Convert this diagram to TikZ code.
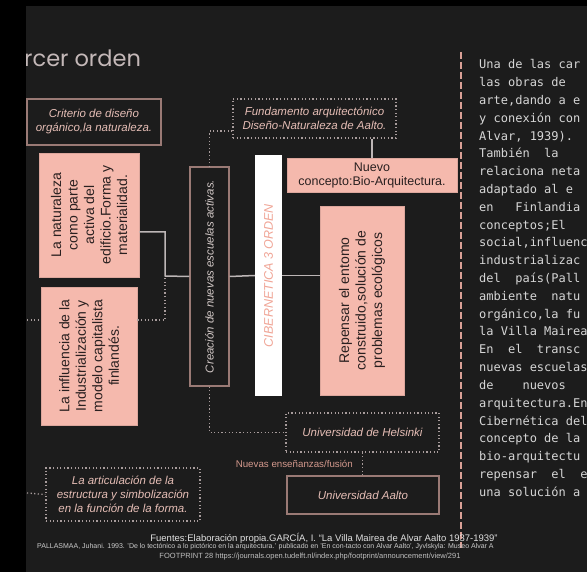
\documentclass[tikz,border=0pt]{standalone}
\usepackage{fontspec}
\setmainfont{Liberation Sans}
\newfontfamily\monofont{DejaVu Sans Mono}
\newfontfamily\titlefont{Poppins}

\definecolor{slide}{HTML}{1C1C1C}
\definecolor{salmon}{HTML}{F5B9AD}
\definecolor{boxline}{HTML}{9A7A75}
\definecolor{dotline}{HTML}{A89C9C}
\definecolor{linkgrey}{HTML}{BDB6B6}
\definecolor{softpink}{HTML}{E6BEB6}
\definecolor{softgrey}{HTML}{D2C8C6}
\definecolor{titlegrey}{HTML}{C4B8B8}
\definecolor{cibtext}{HTML}{F0A596}
\definecolor{divider}{HTML}{D9A096}
\definecolor{bodytext}{HTML}{D6D6D6}
\definecolor{inkdark}{HTML}{2A2020}
\definecolor{labelpink}{HTML}{D4998D}

\begin{document}
\begin{tikzpicture}[x=1pt, y=-1pt,
    pinkbox/.style={fill=salmon, draw=salmon!90!black, line width=0.6pt, inner sep=0pt, text=inkdark, align=center, font=\fontsize{14}{16.5}\selectfont},
    darkbox/.style={draw=boxline, line width=1.4pt, inner sep=0pt, text=softpink, align=center, font=\itshape\fontsize{11.5}{14}\selectfont},
    dotbox/.style={draw=dotline, line width=1.3pt, dash pattern=on 1.2pt off 2.4pt, inner sep=0pt, text=softpink, align=center, font=\itshape\fontsize{11.5}{14}\selectfont},
    link/.style={draw=linkgrey, line width=1.5pt},
    dotlink/.style={draw=dotline, line width=1.3pt, dash pattern=on 1.2pt off 2.4pt}]

    \useasboundingbox (0,0) rectangle (587,572);
    \fill[slide] (0,0) rectangle (587,572);

    \node[anchor=base west, inner sep=0pt, text=titlegrey, font=\titlefont\fontsize{22.5}{26}\selectfont] (title) at (24,67) {rcer orden};

    \node[darkbox, minimum width=134pt, minimum height=46pt] (criterio) at (94,122) {Criterio de diseño\\orgánico,la naturaleza.};
    \node[dotbox, minimum width=163pt, minimum height=39pt] (fundamento) at (314.5,118.5) {Fundamento arquitectónico\\Diseño-Naturaleza de Aalto.};

    \node[pinkbox, rotate=90, minimum width=124pt, minimum height=100pt] (naturaleza) at (89,215) {La naturaleza\\como parte\\activa del\\edificio.Forma y\\materialidad.};
    \node[pinkbox, rotate=90, minimum width=138pt, minimum height=96pt] (influencia) at (89,356) {La influencia de la\\Industrialización y\\modelo capitalista\\finlandés.};

    \node[darkbox, rotate=90, text=softgrey, minimum width=219pt, minimum height=39pt] (creacion) at (209.5,276.5) {Creación de nuevas escuelas activas.};
    \node[fill=white, rotate=90, inner sep=0pt, text=cibtext, font=\itshape\fontsize{12.5}{14}\selectfont, minimum width=241pt, minimum height=27pt] (cibernetica) at (268.5,275.5) {CIBERNETICA 3 ORDEN};

    \node[pinkbox, font=\fontsize{12.5}{14}\selectfont, minimum width=170pt, minimum height=34pt] (nuevo) at (372,175) {Nuevo\\concepto:Bio-Arquitectura.};
    \node[pinkbox, rotate=90, minimum width=189pt, minimum height=84pt] (repensar) at (362,300.5) {Repensar el entomo\\construido,solución de\\problemas ecológicos};

    \node[dotbox, minimum width=153pt, minimum height=39pt] (helsinki) at (362.5,432.5) {Universidad de Helsinki};
    \node[darkbox, minimum width=152pt, minimum height=38pt] (aalto) at (363,495) {Universidad Aalto};
    \node[dotbox, minimum width=154pt, minimum height=53pt] (articulacion) at (123,494.5) {La articulación de la\\estructura y simbolización\\en la función de la forma.};

    \coordinate (junction) at (165,276);
    \coordinate (leftedge1) at (27,320);
    \coordinate (leftedge2) at (27,493);

    \draw[link] (naturaleza.south |- 0,232) -| (junction) -- (creacion.north);
    \draw[link] (creacion.south) -- (cibernetica.north);
    \draw[link] (cibernetica.south) -- (cibernetica.south -| repensar.north);
    \draw[link] (fundamento.south -| nuevo.north) -- (nuevo.north);

    \draw[dotlink] (fundamento.west |- 0,131) -| (creacion.east);
    \draw[dotlink] (influencia.south |- 0,320) -| (junction);
    \draw[dotlink] (leftedge1) -- (leftedge1 -| influencia.north);
    \draw[dotlink] (creacion.west) |- (helsinki.west);
    \draw[dotlink] (helsinki.south) -- node[left=9pt, inner sep=0pt, text=labelpink, font=\fontsize{9.75}{11}\selectfont] (fusion) {Nuevas enseñanzas/fusión} (helsinki.south |- aalto.north);
    \draw[dotlink] (leftedge2) -- (articulacion.west);

    \coordinate (dividertop) at (461,52);
    \coordinate (dividerbottom) at (461,548);
    \draw[draw=divider, line width=2pt, dash pattern=on 7pt off 3pt] (dividertop) -- (dividerbottom);

    \foreach \row [count=\i] in {{Una de las car}, {las obras de}, {arte,dando a e}, {y conexión con}, {Alvar, 1939).}, {También\ \ la}, {relaciona neta}, {adaptado al e}, {en\ \ \ Finlandia}, {conceptos;El}, {social,influenc}, {industrializac}, {del\ \ país(Pall}, {ambiente\ \ natu}, {orgánico,la fu}, {la Villa Mairea}, {En\ \ el\ \ transc}, {nuevas escuelas}, {de\ \ \ \ nuevos}, {arquitectura.En}, {Cibernética del}, {concepto de la}, {bio-arquitectu}, {repensar\ \ el\ \ e}, {una solución a}}
        \node[anchor=base west, inner sep=0pt, text=bodytext, font=\monofont\fontsize{12}{14}\selectfont] (line\i) at (479,{69+17.8*(\i-1)}) {\row};

    \node[inner sep=0pt, text=white!88!black, font=\fontsize{9.5}{10.5}\selectfont] (source) at (324,538) {Fuentes:Elaboración propia.GARCÍA, I. “La Villa Mairea de Alvar Aalto 1937-1939”};
    \node[anchor=west, inner sep=0pt, text=white!80!black, font=\fontsize{7}{8}\selectfont] (pallasmaa) at (37,547) {PALLASMAA, Juhani. 1993. 'De lo tectónico a lo pictórico en la arquitectura.' publicado en 'En con-tacto con Alvar Aalto', Jyvlskyla: Museo Alvar A};
    \node[inner sep=0pt, text=white!75!black, font=\fontsize{7.5}{8.5}\selectfont] (footprint) at (310,557) {FOOTPRINT 28 https://journals.open.tudelft.nl/index.php/footprint/announcement/view/291};

    \fill[black] (0,0) rectangle (26,572);
    \fill[black] (0,0) rectangle (587,6);

\end{tikzpicture}
\end{document}
